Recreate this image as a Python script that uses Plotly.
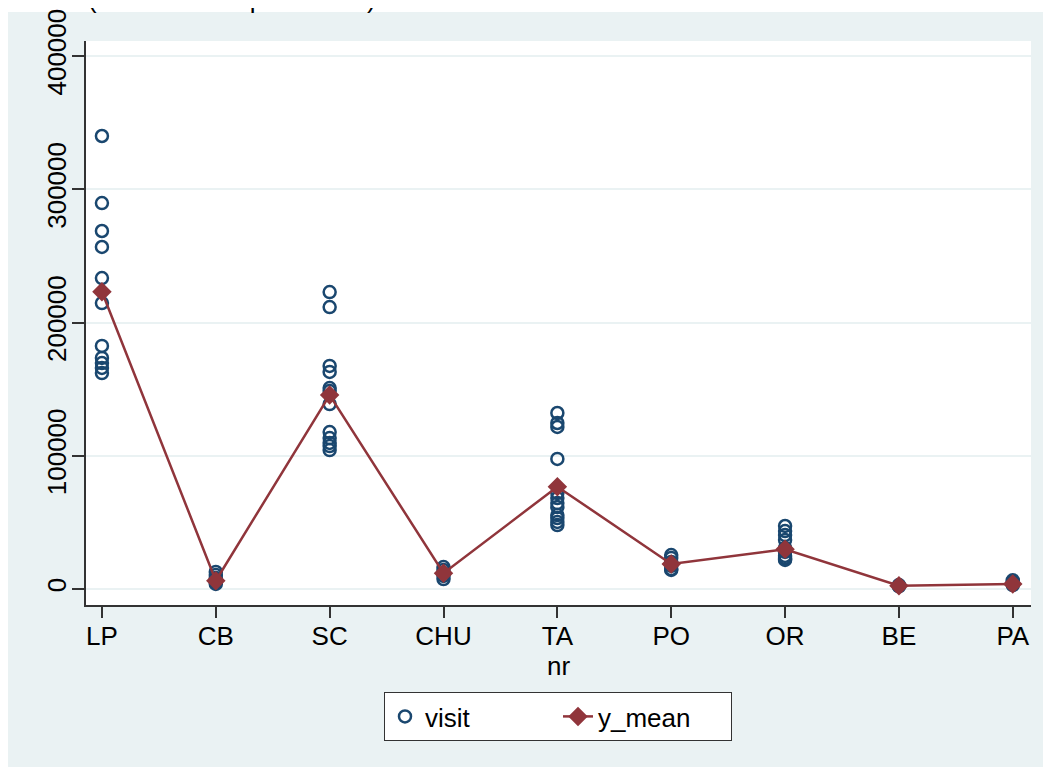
import plotly.graph_objects as go

# ---- data ----
categories = ["LP", "CB", "SC", "CHU", "TA", "PO", "OR", "BE", "PA"]
nr = [1, 2, 3, 4, 5, 6, 7, 8, 9]

visit_LP = [340000, 289700, 268700, 256700, 233400, 214600, 182400, 173400, 169600, 165900, 162100]
visit_CB = [12800, 10500, 8300, 6800, 5300, 3800]
visit_SC = [222900, 211600, 167400, 162900, 150800, 148600, 138800, 117800, 113300, 109600, 107300, 104300]
visit_CHU = [16500, 14300, 12000, 9800, 7500]
visit_TA = [132100, 124600, 121600, 97600, 72000, 68300, 64500, 61500, 55500, 53300, 50300, 48000]
visit_PO = [25500, 23300, 20300, 17300, 15000, 14300]
visit_OR = [47300, 43500, 40500, 36800, 30800, 27800, 24800, 23300, 22500, 21800]
visit_BE = [2000, 2500, 3000]
visit_PA = [3000, 4000, 5500, 6500]

y_mean = [223100, 6200, 145600, 11800, 76800, 18800, 29800, 2500, 3800]

y_ticks = [0, 100000, 200000, 300000, 400000]
y_ticklabels = ["0", "100000", "200000", "300000", "400000"]

visit_groups = [visit_LP, visit_CB, visit_SC, visit_CHU, visit_TA,
                visit_PO, visit_OR, visit_BE, visit_PA]
vx, vy = [], []
for n, vals in zip(nr, visit_groups):
    vx += [n] * len(vals)
    vy += vals

# ---- layout geometry (figure pixels; page body adds an 8px offset) ----
OFF = 8
W, H = 1051 - OFF, 767 - OFF
L, R, T, B = 86 - OFF, 1031 - OFF, 41 - OFF, 605 - OFF
pw, ph = R - L, B - T


def px_x(p):
    return (p - OFF - L) / pw


def px_y(p):
    return 1 - (p - OFF - T) / ph


FONT = "Liberation Sans, Arial, sans-serif"
NAVY = "#1A476F"
MAROON = "#90353B"
BG = "#EAF2F3"
FS = 26

fig = go.Figure()
fig.add_trace(go.Scatter(
    x=vx, y=vy, mode="markers", name="visit",
    marker=dict(symbol="circle-open", size=12, color=NAVY,
                line=dict(width=2.5, color=NAVY)),
))
fig.add_trace(go.Scatter(
    x=nr, y=y_mean, mode="lines+markers", name="y_mean",
    line=dict(color=MAROON, width=2.5),
    marker=dict(symbol="diamond", size=15, color=MAROON),
))

fig.update_layout(
    width=W, height=H,
    margin=dict(l=L, r=W - R, t=T, b=H - B, autoexpand=False),
    paper_bgcolor=BG,
    plot_bgcolor="white",
    font=dict(family=FONT, size=FS, color="black"),
    showlegend=True,
    legend=dict(
        orientation="h",
        x=px_x(384), xanchor="left",
        y=px_y(692), yanchor="top",
        bgcolor="white", bordercolor="#333333", borderwidth=1,
        font=dict(family=FONT, size=FS, color="black"),
        entrywidth=128,
    ),
    shapes=[dict(type="rect", xref="paper", yref="paper",
                 x0=px_x(-20), x1=px_x(1100), y0=px_y(12), y1=px_y(-20),
                 fillcolor="white", line=dict(width=0), layer="below")],
    annotations=[dict(text="(mean of visit per month)", xref="paper", yref="paper",
                      x=px_x(86), xanchor="left", y=px_y(16), yanchor="bottom",
                      showarrow=False, font=dict(family=FONT, size=FS, color="black"))],
)

fig.update_xaxes(
    automargin=False,
    range=[0.86, 9.16],
    tickmode="array", tickvals=nr, ticktext=categories,
    ticks="outside", ticklen=11, tickwidth=1.5, tickcolor="#333333",
    ticklabelstandoff=-4,
    showgrid=False, zeroline=False,
    showline=True, linecolor="#333333", linewidth=1.5,
    title=dict(text="nr", standoff=0, font=dict(size=FS)),
    tickfont=dict(size=FS),
)
fig.update_yaxes(
    automargin=False,
    range=[-12000, 411300],
    tickmode="array", tickvals=y_ticks, ticktext=y_ticklabels,
    tickangle=-90,
    ticks="outside", ticklen=12, tickwidth=1.5, tickcolor="#333333",
    ticklabelstandoff=-4,
    showgrid=True, gridcolor=BG, gridwidth=2,
    zeroline=False,
    showline=True, linecolor="#333333", linewidth=1.5,
    tickfont=dict(size=FS),
)

fig.write_html("out.html")
